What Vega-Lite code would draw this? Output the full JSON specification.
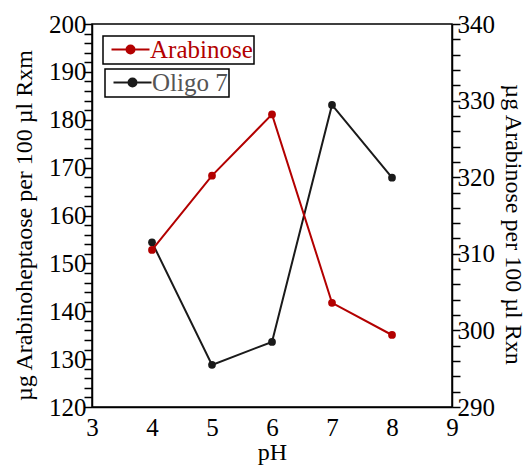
{
  "$schema": "https://vega.github.io/schema/vega-lite/v6.json",
  "width": 360,
  "height": 383,
  "autosize": "none",
  "padding": {"left": 92, "top": 24, "right": 77, "bottom": 59},
  "background": "white",
  "config": {
    "font": "Liberation Serif",
    "view": {"stroke": "black", "strokeWidth": 1.5},
    "axis": {
      "grid": false,
      "domainColor": "black",
      "domainWidth": 1.5,
      "tickColor": "black",
      "tickWidth": 1.5,
      "labelColor": "black",
      "titleColor": "black",
      "labelFont": "Liberation Serif",
      "titleFont": "Liberation Serif",
      "labelFontSize": 25,
      "titleFontSize": 24,
      "titleFontWeight": "normal",
      "labelOverlap": false,
      "labelFlush": false
    },
    "legend": {
      "title": null,
      "orient": "none",
      "strokeColor": "black",
      "padding": 1,
      "labelFont": "Liberation Serif",
      "labelFontSize": 25,
      "symbolSize": 100,
      "symbolOffset": 14,
      "labelOffset": 7,
      "symbolStrokeWidth": 2,
      "symbolType": "M-3.8,0L3.8,0M-0.8,0A0.8,0.8,0,1,1,0.8,0A0.8,0.8,0,1,1,-0.8,0Z"
    }
  },
  "data": {
    "values": [
      {"pH": 4, "series": "Oligo 7", "value": 154.4},
      {"pH": 5, "series": "Oligo 7", "value": 128.8},
      {"pH": 6, "series": "Oligo 7", "value": 133.6},
      {"pH": 7, "series": "Oligo 7", "value": 183.1},
      {"pH": 8, "series": "Oligo 7", "value": 167.9},
      {"pH": 4, "series": "Arabinose", "value": 310.5},
      {"pH": 5, "series": "Arabinose", "value": 320.2},
      {"pH": 6, "series": "Arabinose", "value": 328.2},
      {"pH": 7, "series": "Arabinose", "value": 303.6},
      {"pH": 8, "series": "Arabinose", "value": 299.4}
    ]
  },
  "layer": [
    {
      "transform": [{"filter": "datum.series === 'Oligo 7'"}],
      "mark": {"type": "line", "strokeWidth": 2, "point": {"filled": true, "size": 60}},
      "encoding": {
        "x": {
          "field": "pH", "type": "quantitative",
          "scale": {"domain": [3, 9], "nice": false, "zero": false},
          "axis": {"values": [3, 4, 5, 6, 7, 8, 9], "ticks": false, "labelPadding": 8, "title": "pH", "titlePadding": 0}
        },
        "y": {
          "field": "value", "type": "quantitative",
          "scale": {"domain": [120, 200], "nice": false, "zero": false},
          "axis": {
            "orient": "left",
            "title": "µg Arabinoheptaose per 100 µl Rxm",
            "titlePadding": 12,
            "titleY": 201,
            "values": [120,122,124,126,128,130,132,134,136,138,140,142,144,146,148,150,152,154,156,158,160,162,164,166,168,170,172,174,176,178,180,182,184,186,188,190,192,194,196,198,200],
            "labelExpr": "datum.value % 10 === 0 ? datum.label : ''",
            "tickSize": 8,
            "labelPadding": -2,
            "encode": {"ticks": {"update": {"x2": {"signal": "datum.value % 10 === 0 ? 8 : 4"}}}}
          }
        },
        "color": {
          "field": "series", "type": "nominal",
          "scale": {"domain": ["Oligo 7"], "range": ["#1a1a1a"]},
          "legend": {
            "legendX": 13, "legendY": 45,
            "labelColor": "#555555",
            "symbolFillColor": "#1a1a1a",
            "symbolStrokeColor": "#1a1a1a",
            "encode": {
              "symbols": {"update": {"fill": {"value": "#1a1a1a"}, "stroke": {"value": "#1a1a1a"}, "strokeWidth": {"value": 2}}},
              "legend": {"update": {"strokeWidth": {"value": 1.5}}}
            }
          }
        }
      }
    },
    {
      "transform": [{"filter": "datum.series === 'Arabinose'"}],
      "mark": {"type": "line", "strokeWidth": 2, "point": {"filled": true, "size": 60}},
      "encoding": {
        "x": {
          "field": "pH", "type": "quantitative",
          "scale": {"domain": [3, 9], "nice": false, "zero": false},
          "axis": {"values": [3, 4, 5, 6, 7, 8, 9], "ticks": false, "labelPadding": 8, "title": "pH", "titlePadding": 0}
        },
        "y": {
          "field": "value", "type": "quantitative",
          "scale": {"domain": [290, 340], "nice": false, "zero": false},
          "axis": {
            "orient": "right",
            "title": "µg Arabinose per 100 µl Rxn",
            "titlePadding": 6,
            "titleY": 200,
            "values": [290,292,294,296,298,300,302,304,306,308,310,312,314,316,318,320,322,324,326,328,330,332,334,336,338,340],
            "labelExpr": "datum.value % 10 === 0 ? datum.label : ''",
            "tickSize": 8,
            "labelPadding": -3,
            "encode": {"ticks": {"update": {"x2": {"signal": "datum.value % 10 === 0 ? -8 : -4"}}}}
          }
        },
        "color": {
          "field": "series", "type": "nominal",
          "scale": {"domain": ["Arabinose"], "range": ["#b30000"]},
          "legend": {
            "legendX": 11, "legendY": 12,
            "labelColor": "#b30000",
            "symbolFillColor": "#b30000",
            "symbolStrokeColor": "#b30000",
            "encode": {
              "symbols": {"update": {"fill": {"value": "#b30000"}, "stroke": {"value": "#b30000"}, "strokeWidth": {"value": 2}}},
              "legend": {"update": {"strokeWidth": {"value": 1.5}}}
            }
          }
        }
      }
    }
  ],
  "resolve": {
    "scale": {"y": "independent", "color": "independent"},
    "axis": {"y": "independent"},
    "legend": {"color": "independent"}
  }
}
